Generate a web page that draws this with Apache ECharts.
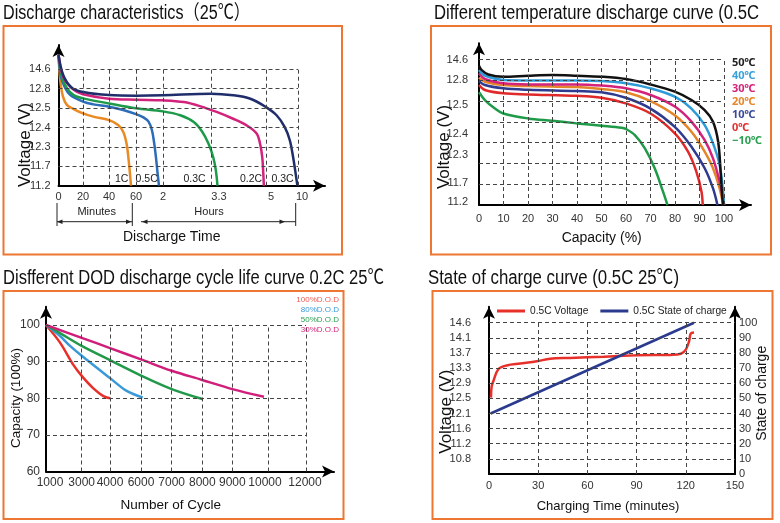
<!DOCTYPE html>
<html><head><meta charset="utf-8">
<script src="https://cdn.jsdelivr.net/npm/echarts@6/dist/echarts.min.js"></script>
<style>html,body{margin:0;padding:0;background:#fff}#c{width:780px;height:523px}</style>
</head><body><div id="c"></div>
<script>
// ===== Panel 1: Discharge characteristics (25℃) — [minutes, volts]
const p1XTickMinutes = [0, 20, 40, 60, 120, 198, 300, 600];
const p1XTickLabels = ['0', '20', '40', '60', '2', '3.3', '5', '10'];
const p1YTickVolts = [11.2, 11.7, 12.3, 12.4, 12.5, 12.8, 14.6];
const p1Curve1C = [[0,14.85],[1.4,13.61],[3.6,12.68],[6.8,12.55],[12.3,12.495],[20,12.473],[28,12.456],[40,12.438],[46.8,12.413],[50.5,12.378],[53,12.318],[54.3,11.994],[55.5,11.52],[56.3,11.2]];
const p1Curve05C = [[0,14.85],[1.9,13.92],[5.5,12.836],[9.6,12.701],[20,12.599],[28,12.557],[40,12.521],[50.5,12.49],[60,12.469],[76.5,12.452],[87.8,12.43],[95.3,12.387],[100.5,12.318],[105,11.892],[108,11.52],[111,11.2]];
const p1Curve03C = [[0,14.85],[2.7,13.92],[6.9,12.836],[12.3,12.701],[20,12.65],[40,12.572],[60,12.499],[120,12.483],[148,12.463],[170,12.428],[184,12.377],[194,12.316],[202,11.988],[207,11.595],[210,11.2]];
const p1Curve02C = [[0,14.85],[3.9,13.88],[12.2,12.785],[20,12.713],[40,12.644],[60,12.629],[120,12.62],[154,12.593],[181,12.527],[208.5,12.48],[239,12.445],[264,12.411],[283,12.368],[289,12.316],[293,11.988],[295,11.51],[296,11.2]];
const p1Curve03C10h = [[0,14.85],[3.9,14.04],[10.8,12.89],[20,12.749],[40,12.701],[60,12.692],[120,12.698],[198,12.722],[239,12.698],[271,12.644],[300,12.515],[399,12.463],[476,12.402],[523,12.334],[554,11.988],[578,11.51],[594,11.2]];

// ===== Panel 2: Different temperature discharge curve — [capacity %, volts]
const p2YTickVolts = [11.2, 11.7, 12.3, 12.4, 12.5, 12.8, 14.6];
const p2Temps = ['50℃','40℃','30℃','20℃','10℃','0℃','−10℃'];
const p2T50 = [[0,14.06],[1.1,13.67],[3.8,13.28],[9.9,13.08],[20.1,13.17],[29.9,13.23],[39.9,13.17],[50,13.08],[59.9,12.87],[70,12.746],[79.9,12.661],[86.7,12.563],[92.1,12.484],[95.5,12.444],[97.6,12.365],[98.6,11.949],[99.2,11.387],[99.6,11.1]];
const p2T40 = [[0,13.67],[2.4,13.17],[9.9,12.798],[20.1,12.793],[39.9,12.793],[50,12.785],[59.9,12.759],[70,12.70],[79.9,12.602],[86.7,12.489],[92.1,12.432],[95.5,12.357],[98.2,12.091],[99.6,11.475],[100,11.1]];
const p2T30 = [[0,13.38],[2.4,12.874],[9.9,12.759],[20.1,12.746],[39.9,12.746],[50,12.732],[59.9,12.70],[70,12.622],[79.9,12.496],[86.7,12.444],[92.1,12.373],[95.5,12.233],[98.2,11.731],[99.6,11.299],[100,11.1]];
const p2T20 = [[0,12.99],[2.4,12.778],[9.9,12.739],[20.1,12.727],[39.9,12.715],[50,12.693],[59.9,12.654],[70,12.551],[79.9,12.466],[86.7,12.409],[92.1,12.317],[95.5,12.02],[98.2,11.562],[99.6,11.1]];
const p2T10 = [[0,12.785],[2.4,12.739],[9.9,12.70],[20.1,12.683],[39.9,12.668],[50,12.654],[59.9,12.59],[70,12.489],[79.9,12.426],[86.7,12.341],[92.1,12.02],[95.5,11.562],[97.3,11.1]];
const p2T0 = [[0,12.739],[2.4,12.68],[9.9,12.641],[20.1,12.629],[39.9,12.612],[50,12.59],[59.9,12.524],[70,12.472],[79.9,12.404],[85.3,12.317],[88.7,11.949],[90.8,11.475],[91.3,11.1]];
const p2Tm10 = [[0,12.654],[2.4,12.563],[6.5,12.489],[9.9,12.472],[20.1,12.455],[29.9,12.447],[39.9,12.438],[50,12.43],[58.2,12.423],[59.9,12.419],[63.6,12.397],[67.7,12.333],[71.7,12.02],[75.1,11.475],[76.9,11.1]];

// ===== Panel 3: DOD cycle life — [cycles, capacity %]
const p3XTickCycles = [1000, 3000, 4000, 6000, 7000, 8000, 9000, 10000, 12000];
const p3DOD = ['100%D.O.D', '80%D.O.D', '50%D.O.D', '30%D.O.D'];
const p3D100 = [[1000,100],[1785,95.2],[2533,89.1],[3000,86.1],[3412,82.7],[3765,80.6],[4000,80]];
const p3D80 = [[1000,100],[1785,97.0],[2346,94.3],[3000,91.6],[4000,85.5],[5075,82.0],[6054,80.2]];
const p3D50 = [[1000,100],[1785,97.8],[3000,94.3],[4000,90.4],[6000,86.2],[7000,82.5],[8000,79.8]];
const p3D30 = [[1000,100],[3000,96.5],[4000,93.7],[6000,90.6],[7000,87.5],[8000,85.0],[9000,82.5],[9880,80.4]];

// ===== Panel 4: State of charge curve — [minutes, volts] and [minutes, SOC]
const p4YTickVolts = [10.8, 11.2, 11.6, 12.1, 12.5, 12.9, 13.3, 13.7, 14.1, 14.6];
const p4Voltage = [[1.2,12.52],[1.6,12.81],[2.7,12.96],[5.7,13.27],[10.8,13.37],[19,13.42],[29.2,13.48],[37.3,13.55],[49.5,13.57],[70,13.6],[90.4,13.64],[110.8,13.65],[117,13.68],[120,13.79],[122,14.01],[123,14.24],[125,14.28]];
const p4SOC = [[1,40],[125,100]];

// ---------- helpers ----------
function pw(anchors, v) {
  const n = anchors.length; let i = 0;
  if (v >= anchors[n - 1][0]) i = n - 2;
  else if (v > anchors[0][0]) { while (v > anchors[i + 1][0]) i++; }
  const [a0, b0] = anchors[i], [a1, b1] = anchors[i + 1];
  return b0 + (v - a0) / (a1 - a0) * (b1 - b0);
}
const zip = (a, b) => a.map((v, i) => [v, b[i]]);

// axis scales (piecewise, as the original chart's axes are)
const P1X = zip(p1XTickMinutes, [0, 24.5, 50.5, 77.5, 104.5, 152.5, 207.5, 239.5]);
const P1XLabelPos = [0, 24.5, 50.5, 77.5, 104.5, 160.5, 212.5, 243.5];
const P1Y = zip(p1YTickVolts, [0, 1, 2, 3, 4, 5, 6]).concat([[15.0, 7.2]]);
const P2YLvl = [0.14, 1.05, 2.4, 3.4, 4.8, 6.03, 7];
const P2Y = [[11.1, 0]].concat(zip(p2YTickVolts, P2YLvl), [[15.19, 7.32]]);
const P3X = zip(p3XTickCycles, [0, 35.7, 64, 95, 125.7, 156.3, 186.3, 222.3, 260]);
const P3XLabelPos = [4, 35.7, 64, 95, 125.7, 156.3, 186.3, 219, 259];
const P4Y = [[10.4, 0]].concat(zip(p4YTickVolts, [1,2,3,4,5,6,7,8,9,10]), [[15.1, 11.06]]);

const F = '"Liberation Sans", Arial, sans-serif';
const FT = '"Liberation Sans", "Noto Sans CJK SC", sans-serif';
const GRID = { type: [4, 3], color: '#444', width: 1 };
const AX = (arrow) => ({ show: true, onZero: false, lineStyle: { color: '#000', width: 2 }, symbol: arrow ? ['none', 'arrow'] : 'none', symbolSize: [9, 12] });

function gridSeries(xi, yi, lines) {
  return { type: 'line', xAxisIndex: xi, yAxisIndex: yi, data: [], silent: true, z: 1,
    markLine: { silent: true, symbol: ['none', 'none'], animation: false, label: { show: false },
      lineStyle: GRID, emphasis: { disabled: true }, data: lines } };
}
const hL = (ys, x0, x1) => ys.map(y => [{ coord: [x0, y] }, { coord: [x1, y] }]);
const vL = (xs, y0, y1) => xs.map(x => [{ coord: [x, y0] }, { coord: [x, y1] }]);
function curve(name, data, color, xi, yi, fx, fy) {
  return { type: 'line', name, xAxisIndex: xi, yAxisIndex: yi, showSymbol: false, symbol: 'none', smooth: 0.35, z: 3,
    lineStyle: { color, width: 2.5 }, itemStyle: { color },
    data: data.map(([a, b]) => [fx(a), fy(b)]) };
}
const id = v => v;
const near = (arr, v) => arr.findIndex(p => Math.abs(p - v) < 0.01);

const series = [
  gridSeries(0, 0, hL([1,2,3,4,5,6], 0, 239.5).concat(vL(P1X.slice(1).map(a => a[1]), 0, 6))),
  curve('1C', p1Curve1C, '#ea8a23', 0, 0, t => pw(P1X, t), v => pw(P1Y, v)),
  curve('0.5C', p1Curve05C, '#2c6cb8', 0, 0, t => pw(P1X, t), v => pw(P1Y, v)),
  curve('0.3C', p1Curve03C, '#1e9a4b', 0, 0, t => pw(P1X, t), v => pw(P1Y, v)),
  curve('0.2C', p1Curve02C, '#d2237c', 0, 0, t => pw(P1X, t), v => pw(P1Y, v)),
  curve('0.3C ', p1Curve03C10h, '#1f2d6b', 0, 0, t => pw(P1X, t), v => pw(P1Y, v)),

  gridSeries(1, 1, hL([1,2,3,4,5,6,7], 0, 100).concat(vL([10,20,30,40,50,60,70,80,90,100], 0, 7))),
  curve('−10℃', p2Tm10, '#1f9a48', 1, 1, id, v => pw(P2Y, v)),
  curve('0℃', p2T0, '#e02a2a', 1, 1, id, v => pw(P2Y, v)),
  curve('10℃', p2T10, '#2f3b8f', 1, 1, id, v => pw(P2Y, v)),
  curve('20℃', p2T20, '#e3852a', 1, 1, id, v => pw(P2Y, v)),
  curve('30℃', p2T30, '#d4237a', 1, 1, id, v => pw(P2Y, v)),
  curve('40℃', p2T40, '#2e9ad8', 1, 1, id, v => pw(P2Y, v)),
  curve('50℃', p2T50, '#111111', 1, 1, id, v => pw(P2Y, v)),

  gridSeries(2, 2, hL([70,80,90,100], 0, 260).concat(vL(P3X.slice(1).map(a => a[1]), 60, 100))),
  curve(p3DOD[0], p3D100, '#e8302a', 2, 2, c => pw(P3X, c), id),
  curve(p3DOD[1], p3D80, '#3a9ad9', 2, 2, c => pw(P3X, c), id),
  curve(p3DOD[2], p3D50, '#22994a', 2, 2, c => pw(P3X, c), id),
  curve(p3DOD[3], p3D30, '#cf1f7a', 2, 2, c => pw(P3X, c), id),

  gridSeries(3, 3, hL([1,2,3,4,5,6,7,8,9,10], 0, 150).concat(vL([30,60,90,120], 0, 10))),
  curve('0.5C Voltage', p4Voltage, '#e8302a', 3, 3, id, v => pw(P4Y, v)),
  curve('0.5C State of charge', p4SOC, '#2a3a8f', 3, 4, id, id)
];
series[series.length - 1].smooth = false;

const lblBase = { color: '#333', fontFamily: F, fontSize: 11 };

const option = {
  animation: false,
  backgroundColor: '#fff',
  legend: { data: ['0.5C Voltage', '0.5C State of charge'], left: 497, top: 306, padding: 0, icon: 'rect', itemWidth: 28, itemHeight: 3,
    itemGap: 12, textStyle: { fontSize: 10.2, color: '#222', fontFamily: F }, selectedMode: false },
  grid: [
    { left: 58.5, top: 45, width: 266.5, height: 140.7 },
    { left: 479, top: 43.3, width: 272, height: 161.7 },
    { left: 46, top: 306.7, width: 288, height: 164.8 },
    { left: 489, top: 306.7, width: 246, height: 167.3 }
  ],
  xAxis: [
    { type: 'value', gridIndex: 0, min: 0, max: 266.5, axisLine: AX(true), axisTick: { show: false }, splitLine: { show: false },
      axisLabel: Object.assign({}, lblBase, { margin: 6, customValues: P1XLabelPos,
        formatter: v => { const i = near(P1XLabelPos, v); return i >= 0 ? p1XTickLabels[i] : ''; } }) },
    { type: 'value', gridIndex: 1, min: 0, max: 111, interval: 10, axisLine: AX(true), axisTick: { show: false }, splitLine: { show: false },
      axisLabel: Object.assign({}, lblBase, { margin: 8, formatter: v => v <= 100 ? String(v) : '' }) },
    { type: 'value', gridIndex: 2, min: 0, max: 288, axisLine: AX(true), axisTick: { show: false }, splitLine: { show: false },
      axisLabel: Object.assign({}, lblBase, { fontSize: 12, margin: 5, customValues: P3XLabelPos,
        formatter: v => { const i = near(P3XLabelPos, v); return i >= 0 ? String(p3XTickCycles[i]) : ''; } }) },
    { type: 'value', gridIndex: 3, min: 0, max: 150, interval: 30, axisLine: AX(false), axisTick: { show: false }, splitLine: { show: false },
      axisLabel: Object.assign({}, lblBase, { margin: 6 }) }
  ],
  yAxis: [
    { type: 'value', gridIndex: 0, min: 0, max: 7.25, interval: 1, axisLine: AX(true), axisTick: { show: false }, splitLine: { show: false },
      axisLabel: Object.assign({}, lblBase, { margin: 8, formatter: v => v <= 6 ? String(p1YTickVolts[v]) : '' }) },
    { type: 'value', gridIndex: 1, min: 0, max: 7.79, axisLine: AX(true), axisTick: { show: false }, splitLine: { show: false },
      axisLabel: Object.assign({}, lblBase, { margin: 11, customValues: P2YLvl,
        formatter: v => { const i = near(P2YLvl, v); return i >= 0 ? String(p2YTickVolts[i]) : ''; } }) },
    { type: 'value', gridIndex: 2, min: 60, max: 105, interval: 10, axisLine: AX(true), axisTick: { show: false }, splitLine: { show: false },
      axisLabel: Object.assign({}, lblBase, { fontSize: 12, margin: 6, formatter: v => v <= 100 ? String(v) : '' }) },
    { type: 'value', gridIndex: 3, min: 0, max: 11.06, interval: 1, axisLine: AX(true), axisTick: { show: false }, splitLine: { show: false },
      axisLabel: Object.assign({}, lblBase, { margin: 18, formatter: v => (v >= 1 && v <= 10) ? String(p4YTickVolts[v - 1]) : '' }) },
    { type: 'value', gridIndex: 3, position: 'right', min: 0, max: 110.6, interval: 10, axisLine: AX(true), axisTick: { show: false }, splitLine: { show: false },
      axisLabel: Object.assign({}, lblBase, { margin: 4, formatter: v => v <= 100 ? String(v) : '' }) }
  ],
  series,
  graphic: { elements: [] }
};

// ---------- decorations (frames, titles, axis names, annotations) ----------
const G = option.graphic.elements;
const mctx = document.createElement('canvas').getContext('2d');
const txt = (x, y, text, font, fill, align, rot, sx) => G.push({ type: 'text', x, y, rotation: rot || 0, scaleX: sx || 1, silent: true, z: 10,
  style: { text, font, fill: fill || '#111', align: align || 'center', textAlign: align || 'center', verticalAlign: 'middle', textVerticalAlign: 'middle' } });
// titles are set in a condensed face: fit the measured width to the original's width
const title = (x, y, text, w) => { const font = '20px ' + FT; mctx.font = font; const m = mctx.measureText(text).width; txt(x, y, text, font, '#111', 'left', 0, w / m); };
const rect = (x, y, w, h) => G.push({ type: 'rect', silent: true, z: 0, shape: { x, y, width: w, height: h }, style: { fill: 'none', stroke: '#ec7632', lineWidth: 2 } });
const seg = (x1, y1, x2, y2) => G.push({ type: 'line', silent: true, shape: { x1, y1, x2, y2 }, style: { stroke: '#222', lineWidth: 1 } });
const tri = (pts) => G.push({ type: 'polygon', silent: true, shape: { points: pts }, style: { fill: '#222' } });

rect(3.5, 26, 338.5, 228.5); rect(431, 26, 340, 228.5); rect(3.5, 291, 340, 228); rect(432.5, 291, 340, 228);

title(3, 13, 'Discharge characteristics（25℃）', 247);
title(434, 13, 'Different temperature discharge curve (0.5C', 325);
title(3, 278, 'Disfferent DOD discharge cycle life curve 0.2C 25℃', 381);
title(428, 278, 'State of charge curve (0.5C 25℃)', 251);

// panel 1
txt(25, 145, 'Voltage (V)', '17px ' + F, '#111', 'center', Math.PI / 2);
txt(171.7, 237.5, 'Discharge Time', '14px ' + F, '#111');
txt(96.7, 211.7, 'Minutes', '11px ' + F, '#222');
txt(209, 211.7, 'Hours', '11px ' + F, '#222');
[['1C',121.7],['0.5C',146.7],['0.3C',194.5],['0.2C',251],['0.3C',282.5]].forEach(([t, x]) => txt(x, 179.5, t, '10.5px ' + F, '#222'));
seg(57, 203, 57, 226); seg(132.3, 203, 132.3, 226); seg(295.7, 203, 295.7, 226);
seg(57, 221.7, 132.3, 221.7); seg(141, 221.7, 295.7, 221.7);
tri([[57,221.7],[62.5,219.5],[62.5,223.9]]); tri([[131.5,221.7],[126,219.5],[126,223.9]]);
tri([[142,221.7],[147.5,219.5],[147.5,223.9]]); tri([[285,221.7],[279.5,219.5],[279.5,223.9]]);

// panel 2
txt(444, 147, 'Voltage (V)', '17px ' + F, '#111', 'center', Math.PI / 2);
txt(601.7, 237.7, 'Capacity (%)', '14px ' + F, '#111');
const p2LegColors = ['#222222', '#3aa0dc', '#d6247a', '#e8872a', '#3a4a9a', '#e03030', '#2aa050'];
const p2LegY = [63.3, 76, 89.3, 101.7, 115, 127.7, 141];
p2Temps.forEach((t, i) => txt(732, p2LegY[i], t, 'bold 11px "Noto Sans", ' + F, p2LegColors[i], 'left'));

// panel 3
txt(16.7, 398, 'Capacity (100%)', '13.5px ' + F, '#111', 'center', Math.PI / 2);
txt(170.7, 505.7, 'Number of Cycle', '13.5px ' + F, '#111');
const p3LegColors = ['#f05a50', '#3a9ad9', '#2aa050', '#d6247a'];
p3DOD.forEach((t, i) => txt(339, 299.3 + i * 10, t, '8px ' + F, p3LegColors[i], 'right'));

// panel 4
txt(446.7, 411.7, 'Voltage (V)', '17px ' + F, '#111', 'center', Math.PI / 2);
txt(761.7, 393.3, 'State of charge', '14px ' + F, '#111', 'center', Math.PI / 2);
txt(608, 506, 'Charging Time (minutes)', '13px ' + F, '#111');

const chart = echarts.init(document.getElementById('c'), null, { renderer: 'canvas' });
chart.setOption(option);
</script>
</body></html>
